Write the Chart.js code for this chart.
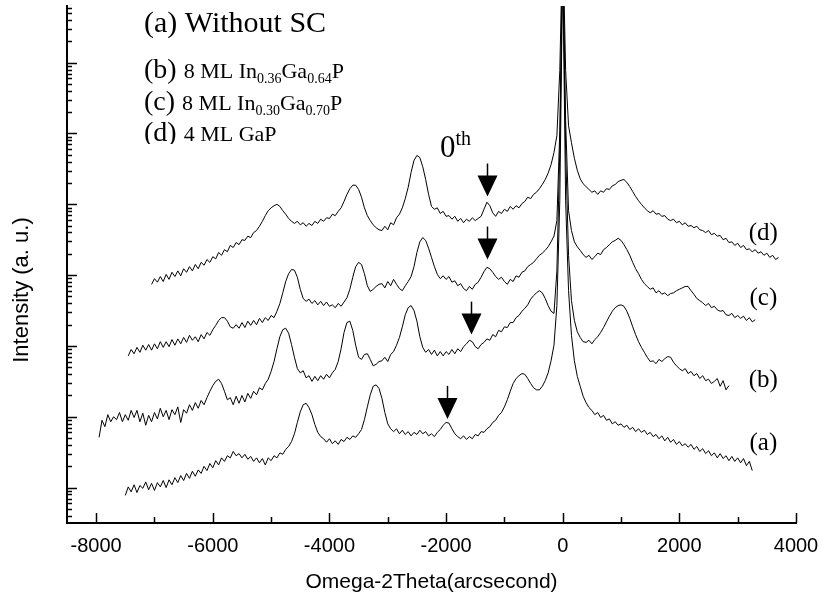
<!DOCTYPE html>
<html><head><meta charset="utf-8">
<script src="https://cdn.jsdelivr.net/npm/chart.js@4"></script>
<style>html,body{margin:0;padding:0;background:#fff}</style>
</head><body>
<canvas id="c" width="822" height="605"></canvas>
<script>
// x: Omega-2Theta (arcsecond), sampled every omegaStep; y: log10 intensity (a.u., decades)
const omegaStep = 50;
const startA = -7500, startB = -7950, startC = -7450, startD = -7050;
const logA = [-0.11,0.01,-0.06,0.04,-0.07,0.03,-0.01,0.08,-0.03,0.06,-0.04,0.07,0.01,0.10,0.00,0.11,0.04,0.14,0.07,0.17,
0.10,0.20,0.13,0.23,0.16,0.25,0.20,0.30,0.24,0.34,0.28,0.38,0.32,0.42,0.37,0.45,0.42,0.51,0.45,0.48,
0.42,0.47,0.40,0.44,0.37,0.42,0.35,0.41,0.32,0.42,0.38,0.45,0.42,0.49,0.47,0.54,0.58,0.65,0.76,0.92,
1.07,1.17,1.19,1.13,1.03,0.89,0.78,0.72,0.69,0.64,0.69,0.62,0.66,0.61,0.68,0.65,0.71,0.68,0.73,0.71,
0.76,0.82,0.96,1.14,1.31,1.43,1.45,1.40,1.26,1.06,0.90,0.83,0.79,0.83,0.76,0.81,0.75,0.79,0.73,0.78,
0.75,0.81,0.76,0.79,0.73,0.76,0.72,0.78,0.82,0.88,0.92,0.91,0.83,0.76,0.72,0.69,0.73,0.68,0.72,0.69,
0.75,0.73,0.79,0.78,0.83,0.86,0.92,0.95,1.02,1.06,1.14,1.24,1.36,1.47,1.54,1.58,1.61,1.60,1.54,1.47,
1.41,1.38,1.38,1.43,1.51,1.62,1.79,2.01,2.57,4.05,7.4,4.05,2.78,2.15,1.79,1.57,1.43,1.29,1.20,1.13,
1.09,1.03,1.06,0.99,1.02,0.95,0.97,0.90,0.93,0.88,0.90,0.85,0.88,0.82,0.85,0.79,0.83,0.78,0.81,0.75,
0.78,0.72,0.75,0.69,0.73,0.66,0.71,0.64,0.68,0.61,0.65,0.59,0.62,0.57,0.61,0.54,0.58,0.51,0.55,0.48,
0.52,0.45,0.49,0.42,0.48,0.41,0.45,0.38,0.44,0.37,0.42,0.35,0.41,0.31,0.37,0.24];
const logB = [0.71,0.95,0.86,1.03,0.93,1.00,0.96,1.06,0.93,1.03,0.95,1.09,0.99,1.09,0.93,1.05,0.88,1.02,0.93,1.06,
0.97,1.12,1.00,1.09,0.96,1.10,1.03,1.14,0.92,1.10,1.05,1.17,1.09,1.20,1.12,1.23,1.17,1.27,1.36,1.44,
1.50,1.53,1.47,1.36,1.24,1.27,1.17,1.29,1.19,1.30,1.21,1.33,1.26,1.36,1.31,1.41,1.38,1.47,1.53,1.64,
1.78,1.96,2.13,2.23,2.25,2.18,2.02,1.84,1.68,1.62,1.65,1.55,1.58,1.50,1.57,1.51,1.58,1.53,1.60,1.55,
1.62,1.67,1.78,1.96,2.19,2.33,2.35,2.22,2.01,1.84,1.81,1.88,1.89,1.81,1.72,1.74,1.78,1.79,1.84,1.78,
1.88,1.92,2.01,2.12,2.27,2.44,2.54,2.57,2.50,2.35,2.13,1.98,1.91,1.95,1.88,1.94,1.86,1.92,1.86,1.92,
1.88,1.95,1.89,1.96,1.92,1.99,2.03,2.08,2.06,1.99,1.96,2.02,2.05,2.10,2.08,2.16,2.13,2.22,2.20,2.27,
2.26,2.33,2.33,2.40,2.43,2.49,2.53,2.58,2.66,2.71,2.75,2.78,2.75,2.67,2.57,2.49,2.46,3.06,4.76,7.5,
4.76,3.28,2.64,2.36,2.20,2.12,2.06,2.05,2.08,2.03,2.09,2.13,2.19,2.26,2.34,2.42,2.49,2.54,2.57,2.58,
2.56,2.49,2.39,2.27,2.16,2.06,1.98,1.91,1.84,1.78,1.79,1.75,1.81,1.78,1.82,1.85,1.84,1.77,1.72,1.68,
1.65,1.68,1.61,1.64,1.58,1.61,1.54,1.58,1.51,1.53,1.47,1.50,1.54,1.43,1.51,1.38,1.44];
const logC = [1.86,1.95,1.89,1.98,1.91,2.01,1.94,2.02,1.94,2.03,1.96,2.06,1.98,2.06,1.99,2.09,2.01,2.10,2.03,2.12,
2.05,2.15,2.08,2.13,2.06,2.16,2.10,2.19,2.15,2.23,2.29,2.36,2.40,2.40,2.35,2.27,2.25,2.30,2.25,2.33,
2.26,2.35,2.29,2.36,2.30,2.39,2.33,2.40,2.36,2.43,2.40,2.49,2.60,2.75,2.91,3.02,3.08,3.07,2.97,2.80,
2.67,2.63,2.66,2.60,2.64,2.58,2.63,2.57,2.62,2.56,2.58,2.54,2.60,2.56,2.62,2.68,2.80,2.97,3.12,3.18,
3.15,3.02,2.85,2.77,2.80,2.84,2.87,2.88,2.82,2.91,2.85,2.94,2.87,2.81,2.78,2.85,2.91,2.98,3.12,3.32,
3.47,3.53,3.49,3.38,3.25,3.12,3.01,2.95,2.99,2.94,2.98,2.90,2.92,2.85,2.88,2.81,2.78,2.84,2.80,2.87,
2.90,2.97,3.05,3.11,3.09,3.04,2.98,2.94,2.97,2.91,2.87,2.94,2.91,2.99,2.97,3.04,3.06,3.12,3.15,3.18,
3.23,3.28,3.31,3.35,3.40,3.47,3.55,3.77,5.04,7.6,5.18,3.91,3.63,3.47,3.40,3.35,3.29,3.25,3.28,3.22,
3.26,3.31,3.29,3.36,3.39,3.43,3.47,3.49,3.52,3.49,3.43,3.36,3.28,3.18,3.09,3.02,2.94,2.88,2.84,2.80,
2.82,2.75,2.78,2.73,2.75,2.71,2.74,2.75,2.78,2.80,2.82,2.84,2.84,2.78,2.73,2.67,2.64,2.61,2.57,2.60,
2.54,2.56,2.51,2.49,2.50,2.44,2.43,2.46,2.40,2.43,2.39,2.42,2.36,2.40,2.34,2.37];
const logD = [2.87,2.95,2.90,2.98,2.91,3.01,2.94,3.04,2.98,3.06,2.99,3.09,3.04,3.12,3.06,3.15,3.09,3.18,3.14,3.22,
3.18,3.26,3.23,3.32,3.28,3.36,3.33,3.42,3.39,3.46,3.43,3.50,3.49,3.55,3.53,3.60,3.63,3.69,3.76,3.84,
3.91,3.95,3.98,4.00,3.97,3.91,3.86,3.80,3.76,3.73,3.76,3.71,3.74,3.69,3.73,3.70,3.76,3.73,3.79,3.76,
3.81,3.80,3.86,3.84,3.90,3.95,4.04,4.14,4.22,4.27,4.27,4.21,4.10,3.95,3.84,3.77,3.71,3.67,3.64,3.63,
3.69,3.64,3.74,3.71,3.81,3.86,3.95,4.08,4.24,4.45,4.62,4.69,4.66,4.53,4.35,4.14,3.97,3.93,3.95,3.87,
3.90,3.83,3.84,3.79,3.83,3.76,3.80,3.74,3.79,3.76,3.81,3.77,3.80,3.83,3.93,4.03,3.98,3.88,3.83,3.90,
3.87,3.93,3.90,3.97,3.93,3.98,3.95,4.01,4.04,4.10,4.08,4.14,4.17,4.22,4.28,4.35,4.44,4.56,4.73,4.97,
5.89,7.8,5.89,5.11,4.87,4.65,4.48,4.36,4.29,4.25,4.21,4.17,4.19,4.14,4.19,4.17,4.22,4.21,4.26,4.28,
4.32,4.34,4.35,4.31,4.25,4.18,4.11,4.05,4.00,3.95,3.91,3.88,3.91,3.86,3.87,3.83,3.84,3.79,3.77,3.79,
3.74,3.76,3.71,3.74,3.69,3.70,3.67,3.69,3.64,3.63,3.60,3.63,3.57,3.59,3.55,3.56,3.50,3.52,3.46,3.47,
3.42,3.45,3.39,3.42,3.36,3.37,3.33,3.36,3.31,3.33,3.28,3.31,3.25,3.28,3.22,3.25];

const xMajorTicks = [-8000,-6000,-4000,-2000,0,2000,4000];
const xMinorTicks = [-7000,-5000,-3000,-1000,1000,3000];
const yDecades = [-1,0,1,2,3,4,5,6];

const curveLabels = ['(a)','(b)','(c)','(d)'];
const curveLabelOmega = [3440,3440,3440,3440];
const curveLabelLog = [0.62,1.51,2.67,3.59];
const arrowOmega = [-1980,-1575,-1300,-1300];
const arrowLog = [0.97,2.16,3.22,4.11];

const sans = '"Liberation Sans", Arial, sans-serif';
const serif = '"Liberation Serif", "Times New Roman", serif';

function pts(start, ys){ return ys.map((y,i)=>({x:start + i*omegaStep, y:y})); }
const ds = (start,ys)=>({data:pts(start,ys), borderColor:'#000', borderWidth:1, pointRadius:0, fill:false, tension:0});

function drawRich(ctx, x, y, parts){
  let cx = x;
  parts.forEach(p=>{
    ctx.font = p.size+'px '+serif;
    ctx.fillText(p.t, cx, y + (p.dy||0));
    cx += ctx.measureText(p.t).width;
  });
}

const decor = {
  id:'decor',
  afterDraw(chart){
    const {ctx, chartArea:a, scales:{x, y}} = chart;
    ctx.save();
    ctx.strokeStyle = '#000'; ctx.fillStyle = '#000'; ctx.lineWidth = 1.5;
    xMajorTicks.forEach(v=>{ const px = Math.round(x.getPixelForValue(v))+0.5; ctx.beginPath(); ctx.moveTo(px,a.bottom); ctx.lineTo(px,a.bottom-10); ctx.stroke(); });
    xMinorTicks.forEach(v=>{ const px = Math.round(x.getPixelForValue(v))+0.5; ctx.beginPath(); ctx.moveTo(px,a.bottom); ctx.lineTo(px,a.bottom-6); ctx.stroke(); });
    yDecades.forEach(n=>{
      for(let k=1;k<=9;k++){
        const v = n + Math.log10(k);
        if (v < y.min || v > y.max) continue;
        const py = Math.round(y.getPixelForValue(v))+0.5;
        ctx.beginPath(); ctx.moveTo(a.left,py); ctx.lineTo(a.left+(k===1?10:5),py); ctx.stroke();
      }
    });
    ctx.save();
    ctx.translate(22, 290); ctx.rotate(-Math.PI/2);
    ctx.font = '22px '+sans; ctx.textAlign='center'; ctx.textBaseline='middle';
    ctx.fillText('Intensity (a. u.)', 0, 0);
    ctx.restore();
    ctx.textAlign='left'; ctx.textBaseline='alphabetic';
    drawRich(ctx,144,32,[{t:'(a) Without SC',size:30}]);
    drawRich(ctx,144,78,[{t:'(b) ',size:28},{t:'8 ML In',size:22},{t:'0.36',size:14,dy:5},{t:'Ga',size:22},{t:'0.64',size:14,dy:5},{t:'P',size:22}]);
    drawRich(ctx,144,110,[{t:'(c) ',size:28},{t:'8 ML In',size:22},{t:'0.30',size:14,dy:5},{t:'Ga',size:22},{t:'0.70',size:14,dy:5},{t:'P',size:22}]);
    ctx.save(); ctx.beginPath(); ctx.rect(100,112,300,32); ctx.clip();
    drawRich(ctx,144,141,[{t:'(d) ',size:28},{t:'4 ML GaP',size:22}]);
    ctx.restore();
    drawRich(ctx,440,157,[{t:'0',size:31},{t:'th',size:20,dy:-12}]);
    curveLabels.forEach((t,i)=>{
      const px = x.getPixelForValue(curveLabelOmega[i]), py = y.getPixelForValue(curveLabelLog[i]);
      ctx.font = '25px '+serif; ctx.textAlign='center'; ctx.textBaseline='middle';
      ctx.fillText(t, px, py);
    });
    arrowOmega.forEach((xv,i)=>{
      const px = Math.round(x.getPixelForValue(xv))+0.5, py = y.getPixelForValue(arrowLog[i]);
      ctx.lineWidth = 1.5;
      ctx.beginPath(); ctx.moveTo(px, py-33); ctx.lineTo(px, py-20); ctx.stroke();
      ctx.beginPath(); ctx.moveTo(px-10, py-21); ctx.lineTo(px+10, py-21); ctx.lineTo(px, py); ctx.closePath(); ctx.fill();
    });
    ctx.restore();
  }
};

new Chart(document.getElementById('c'), {
  type:'line',
  data:{datasets:[ds(startA,logA), ds(startB,logB), ds(startC,logC), ds(startD,logD)]},
  options:{
    responsive:false, animation:false, devicePixelRatio:1,
    layout:{padding:{left:0, top:6, right:26, bottom:0}},
    plugins:{legend:{display:false}, tooltip:{enabled:false}},
    scales:{
      x:{type:'linear', min:-8500, max:4000,
        afterBuildTicks(s){ s.ticks = xMajorTicks.map(v=>({value:v})); },
        afterFit(s){ s.height = 82; s.paddingLeft = 0; s.paddingRight = 0; },
        grid:{display:false, drawTicks:false},
        border:{display:true, color:'#000', width:2},
        ticks:{color:'#000', font:{family:sans, size:20}, padding:11, maxRotation:0, autoSkip:false, callback:v=>String(v)},
        title:{display:true, text:'Omega-2Theta(arcsecond)', color:'#000', font:{family:sans, size:21}, padding:{top:0, bottom:10}}
      },
      y:{type:'linear', min:-0.5, max:6.8,
        afterFit(s){ s.width = 67; },
        grid:{display:false, drawTicks:false},
        border:{display:true, color:'#000', width:2},
        ticks:{display:false}
      }
    }
  },
  plugins:[decor]
});
</script>
</body></html>
